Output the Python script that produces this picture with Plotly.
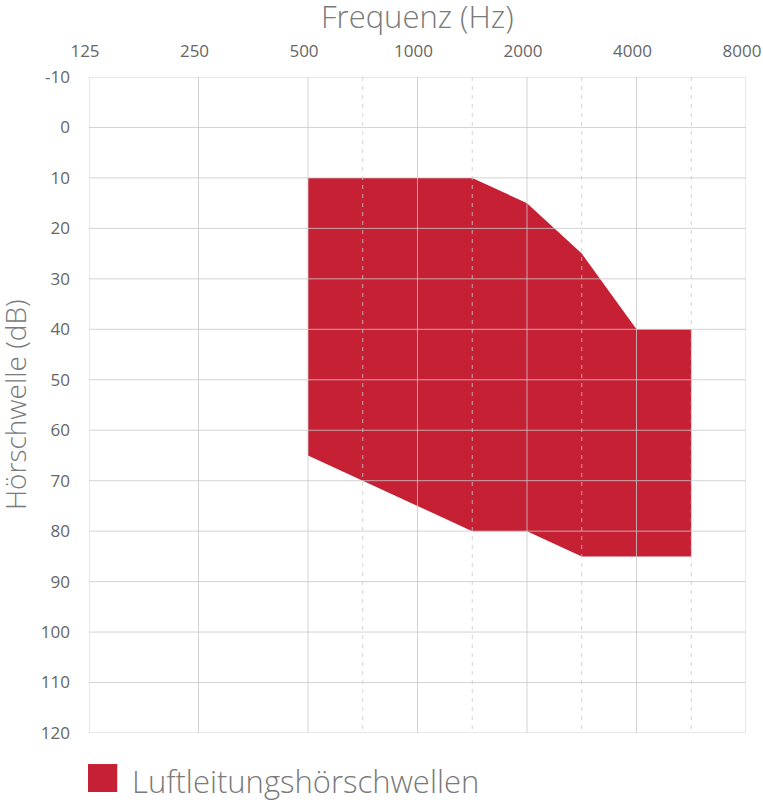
import math
import plotly.graph_objects as go

# Octave frequencies shown on the top axis
octave_labels = ["125", "250", "500", "1000", "2000", "4000", "8000"]
half_octave_freqs = [750, 1500, 3000, 6000]

# Range of air-conduction thresholds (dB HL)
band_freqs = [500, 750, 1000, 1500, 2000, 3000, 4000, 6000]
upper_db = [10, 10, 10, 10, 15, 25, 40, 40]
lower_db = [65, 70, 75, 80, 80, 85, 85, 85]

db_ticks = list(range(-10, 121, 10))
series_name = "Luftleitungshörschwellen"

RED = "#C52033"
GRID = "rgba(200,200,200,0.8)"
GRAY = "#7a7a7a"
TICK = "#666666"
FONT = "Open Sans, sans-serif"


def pos(f):
    # audiogram position in octaves above 125 Hz, snapped to half octaves
    return round(2 * math.log2(f / 125)) / 2


octave_pos = [pos(float(f)) for f in octave_labels]
half_pos = [pos(f) for f in half_octave_freqs]

xs = [pos(f) for f in band_freqs]
poly_x = xs + xs[::-1]
poly_y = upper_db + lower_db[::-1]

fig = go.Figure()
fig.add_trace(go.Scatter(
    x=poly_x, y=poly_y, fill="toself", fillcolor=RED,
    mode="lines", line=dict(width=0, color=RED),
    name=series_name, showlegend=False, hoverinfo="skip",
))

shapes = []
for p in octave_pos:
    shapes.append(dict(type="line", xref="x", yref="y", x0=p, x1=p, y0=db_ticks[0], y1=db_ticks[-1],
                       line=dict(color=GRID, width=1), layer="above"))
for p in half_pos:
    shapes.append(dict(type="line", xref="x", yref="y", x0=p, x1=p, y0=db_ticks[0], y1=db_ticks[-1],
                       line=dict(color=GRID, width=1, dash="4px,5px"), layer="above"))
for d in db_ticks:
    shapes.append(dict(type="line", xref="x", yref="y", x0=octave_pos[0], x1=octave_pos[-1], y0=d, y1=d,
                       line=dict(color=GRID, width=1), layer="above"))

# legend swatch drawn by hand so it can be large
shapes.append(dict(type="rect", xref="paper", yref="paper", x0=-0.0015, x1=0.043, y0=-0.0899, y1=-0.0473,
                   fillcolor=RED, line=dict(width=0)))

annotations = [
    dict(text=series_name, xref="paper", yref="paper", x=0.062, y=-0.0735,
         xanchor="left", yanchor="middle", showarrow=False,
         font=dict(family=FONT, size=31, color=GRAY, weight=300)),
    dict(text="Frequenz (Hz)", xref="paper", yref="paper", x=0.5, y=1.093,
         xanchor="center", yanchor="middle", showarrow=False,
         font=dict(family=FONT, size=31, color=GRAY, weight=300)),
    dict(text="Hörschwelle (dB)", xref="paper", yref="paper", x=-0.1126, y=0.5,
         xanchor="center", yanchor="middle", textangle=-90, showarrow=False,
         font=dict(family=FONT, size=28, color=GRAY, weight=300)),
]

fig.update_layout(
    width=763, height=800,
    margin=dict(l=89, r=17, t=77, b=67),
    paper_bgcolor="white", plot_bgcolor="white",
    shapes=shapes,
    annotations=annotations,
    xaxis=dict(
        range=[octave_pos[0], octave_pos[-1]], side="top", automargin=False,
        tickvals=octave_pos, ticktext=octave_labels,
        showgrid=False, zeroline=False, showline=False, ticks="",
        ticklabelstandoff=16, ticklabelshift=-4,
        tickfont=dict(family=FONT, size=17, color=TICK),
    ),
    yaxis=dict(
        range=[db_ticks[-1], db_ticks[0]], automargin=False,
        tickvals=db_ticks, ticktext=[str(d) for d in db_ticks],
        showgrid=False, zeroline=False, showline=False, ticks="",
        ticklabelstandoff=18,
        tickfont=dict(family=FONT, size=17, color=TICK),
    ),
)

# drop the default page margin so the figure fills the window exactly
fig.write_html(
    "out.html",
    config={"displayModeBar": False},
    post_script="document.body.style.margin='0';document.body.style.overflow='hidden';",
)
